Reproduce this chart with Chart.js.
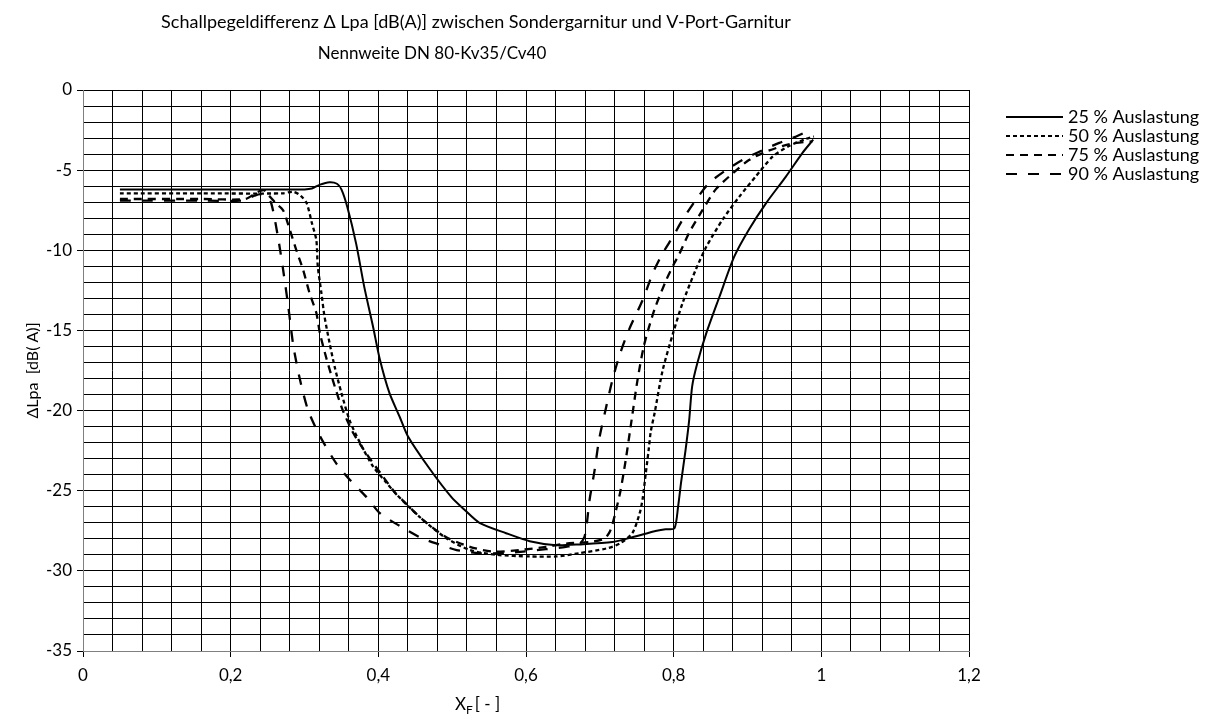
<!DOCTYPE html>
<html>
<head>
<meta charset="utf-8">
<script src="https://cdn.jsdelivr.net/npm/chart.js@4.4.0/dist/chart.umd.min.js"></script>
<style>
    html, body { margin: 0; padding: 0; background: #fff; }
</style>
</head>
<body>
<canvas id="grafico" width="1214" height="720"></canvas>
<script>
// Dados (X_F e ΔLpa)
const x25 = [0.05, 0.158, 0.300, 0.310, 0.321, 0.334, 0.344, 0.350, 0.358, 0.370, 0.381, 0.393, 0.402, 0.415, 0.429, 0.440,
    0.469, 0.499, 0.517, 0.537, 0.573, 0.605, 0.641, 0.672, 0.717, 0.744, 0.777, 0.789, 0.801, 0.806, 0.810, 0.816,
    0.821, 0.825, 0.832, 0.844, 0.862, 0.882, 0.902, 0.925, 0.952, 0.974, 0.989];
const y25 = [-6.2, -6.2, -6.2, -6.15, -5.9, -5.75, -5.85, -6.2, -7.3, -9.6, -12.3, -14.8, -16.8, -18.9, -20.4, -21.6,
    -23.6, -25.4, -26.2, -27.0, -27.65, -28.15, -28.4, -28.35, -28.2, -27.9, -27.5, -27.4, -27.35, -26.0, -24.5, -22.5,
    -20.6, -18.5, -17.05, -15.2, -12.9, -10.4, -8.7, -7.07, -5.4, -3.95, -3.1];

const x50 = [0.05, 0.16, 0.27, 0.285, 0.295, 0.303, 0.310, 0.316, 0.318, 0.323, 0.327, 0.334, 0.341, 0.350, 0.361, 0.375,
    0.393, 0.411, 0.424, 0.455, 0.490, 0.524, 0.560, 0.605, 0.641, 0.672, 0.709, 0.727, 0.744, 0.754, 0.758, 0.762,
    0.766, 0.769, 0.774, 0.785, 0.799, 0.812, 0.830, 0.844, 0.866, 0.889, 0.911, 0.934, 0.956, 0.979, 0.990];
const y50 = [-6.45, -6.45, -6.45, -6.35, -6.6, -7.07, -8.3, -9.36, -11.0, -12.7, -14.1, -15.8, -17.3, -18.9, -20.6, -22.0,
    -23.5, -24.5, -25.2, -26.6, -27.9, -28.7, -29.0, -29.1, -29.1, -28.9, -28.6, -28.3, -27.65, -26.4, -25.5, -24.0,
    -22.5, -21.3, -20.2, -17.5, -15.2, -13.3, -11.2, -9.8, -8.1, -6.65, -5.4, -4.16, -3.5, -3.05, -2.9];

const x75 = [0.05, 0.16, 0.22, 0.235, 0.245, 0.252, 0.262, 0.271, 0.280, 0.289, 0.298, 0.307, 0.316, 0.321, 0.330, 0.341,
    0.352, 0.366, 0.384, 0.406, 0.424, 0.433, 0.460, 0.492, 0.524, 0.555, 0.591, 0.627, 0.654, 0.686, 0.706, 0.713,
    0.717, 0.722, 0.728, 0.735, 0.743, 0.751, 0.760, 0.774, 0.790, 0.801, 0.808, 0.821, 0.839, 0.857, 0.880, 0.902,
    0.925, 0.947, 0.966, 0.988];
const y75 = [-6.8, -6.8, -6.8, -6.4, -6.25, -6.6, -7.1, -7.5, -8.7, -10.0, -11.2, -12.7, -13.9, -15.2, -16.8, -18.5,
    -20.0, -21.4, -22.7, -24.1, -25.2, -25.6, -26.8, -27.9, -28.5, -28.8, -28.7, -28.5, -28.3, -28.2, -28.0, -27.6,
    -27.1, -26.2, -25.0, -23.1, -20.6, -18.1, -15.9, -13.7, -11.85, -10.8, -10.2, -8.9, -7.5, -6.2, -5.2, -4.37,
    -3.85, -3.5, -3.3, -3.2];

const x90 = [0.05, 0.16, 0.215, 0.232, 0.240, 0.248, 0.255, 0.264, 0.271, 0.278, 0.285, 0.294, 0.305, 0.321, 0.343, 0.361,
    0.384, 0.402, 0.429, 0.456, 0.479, 0.506, 0.537, 0.564, 0.596, 0.627, 0.654, 0.672, 0.679, 0.682, 0.686, 0.693,
    0.699, 0.708, 0.717, 0.727, 0.740, 0.758, 0.772, 0.785, 0.799, 0.812, 0.830, 0.848, 0.871, 0.893, 0.916, 0.943,
    0.966, 0.984];
const y90 = [-6.9, -6.9, -6.9, -6.6, -6.5, -6.6, -7.07, -9.15, -11.2, -13.5, -16.0, -18.1, -20.0, -21.6, -23.3, -24.3,
    -25.4, -26.4, -27.2, -27.9, -28.3, -28.7, -28.9, -28.9, -28.8, -28.65, -28.5, -28.35, -27.9, -27.2, -25.6, -23.7,
    -21.8, -19.9, -18.1, -16.5, -14.9, -13.1, -11.4, -10.2, -9.15, -8.1, -6.86, -5.8, -5.0, -4.37, -3.85, -3.3,
    -2.9, -2.5];

const legendas = ['25 % Auslastung', '50 % Auslastung', '75 % Auslastung', '90 % Auslastung'];
const tracos = [[], [4, 3], [8, 6], [11, 11]];

const titulo1 = 'Schallpegeldifferenz \u0394 Lpa [dB(A)] zwischen Sondergarnitur und V-Port-Garnitur';
const titulo2 = 'Nennweite DN 80-Kv35/Cv40';

const fonte = 'Lato';

// Junta x e y em pontos
function pontos(xs, ys) {
    return xs.map((x, i) => ({ x: x, y: ys[i] }));
}

const series = [[x25, y25], [x50, y50], [x75, y75], [x90, y90]];

// Desenha título, nomes dos eixos e legenda
const textosExtras = {
    id: 'textosExtras',
    afterDraw(chart) {
        const ctx = chart.ctx;
        const area = chart.chartArea;
        ctx.save();
        ctx.fillStyle = '#000';
        ctx.textBaseline = 'middle';

        // título
        ctx.textAlign = 'center';
        ctx.font = '18px ' + fonte;
        ctx.fillText(titulo1, 476, 22);
        ctx.font = '17px ' + fonte;
        ctx.fillText(titulo2, 432, 54);

        // eixo y
        ctx.save();
        ctx.translate(33, (area.top + area.bottom) / 2);
        ctx.rotate(-Math.PI / 2);
        ctx.font = '16px ' + fonte;
        ctx.fillText('\u0394Lpa  [dB( A)]', 0, 0);
        ctx.restore();

        // eixo x com subscrito
        ctx.textAlign = 'left';
        ctx.font = '17px ' + fonte;
        let px = 455;
        ctx.fillText('X', px, 705);
        px += ctx.measureText('X').width;
        ctx.font = '12px ' + fonte;
        ctx.fillText('F', px, 710);
        px += ctx.measureText('F').width + 2;
        ctx.font = '17px ' + fonte;
        ctx.fillText('[ - ]', px, 705);

        // legenda
        ctx.font = '18px ' + fonte;
        legendas.forEach((txt, i) => {
            const y = 117 + i * 19;
            ctx.beginPath();
            ctx.setLineDash(tracos[i]);
            ctx.lineWidth = 2;
            ctx.strokeStyle = '#000';
            ctx.moveTo(1006, y);
            ctx.lineTo(1063, y);
            ctx.stroke();
            ctx.setLineDash([]);
            ctx.fillText(txt, 1068, y);
        });
        ctx.restore();
    }
};

const ctx = document.getElementById('grafico').getContext('2d');

const meuGrafico = new Chart(ctx, {
    type: 'line',
    data: {
        datasets: series.map((s, i) => ({
            label: legendas[i],
            data: pontos(s[0], s[1]),
            borderColor: '#000',
            borderWidth: i === 0 ? 2 : 2.3,
            borderDash: tracos[i],
            pointRadius: 0,
            tension: 0.25,
            fill: false
        }))
    },
    options: {
        responsive: false,
        animation: false,
        layout: { padding: { left: 0, right: 245, top: 90, bottom: 0 } },
        plugins: {
            legend: { display: false },
            title: { display: false },
            tooltip: { enabled: false }
        },
        scales: {
            x: {
                type: 'linear',
                min: 0,
                max: 1.2,
                afterFit: function(scale) { scale.height = 69; },
                border: { color: '#808080' },
                grid: {
                    color: '#000',
                    lineWidth: 1,
                    tickLength: 6,
                    tickColor: function(c) {
                        return c.tick && Math.round(c.tick.value * 100) % 20 === 0 ? '#000' : 'rgba(0,0,0,0)';
                    }
                },
                ticks: {
                    stepSize: 0.04,
                    autoSkip: false,
                    maxRotation: 0,
                    padding: 8,
                    color: '#000',
                    font: { family: fonte, size: 17 },
                    callback: function(v) {
                        const c = Math.round(v * 100);
                        if (c % 20 !== 0) return '';
                        return String(c / 100).replace('.', ',');
                    }
                }
            },
            y: {
                min: -35,
                max: 0,
                afterFit: function(scale) { scale.width = 83; },
                border: { color: '#808080' },
                grid: {
                    color: '#000',
                    lineWidth: 1,
                    tickLength: 6,
                    tickColor: function(c) {
                        return c.tick && c.tick.value % 5 === 0 ? '#000' : 'rgba(0,0,0,0)';
                    }
                },
                ticks: {
                    stepSize: 1,
                    autoSkip: false,
                    padding: 5,
                    color: '#000',
                    font: { family: fonte, size: 17 },
                    callback: function(v) {
                        return v % 5 === 0 ? String(v) : '';
                    }
                }
            }
        }
    },
    plugins: [textosExtras]
});
</script>
</body>
</html>
